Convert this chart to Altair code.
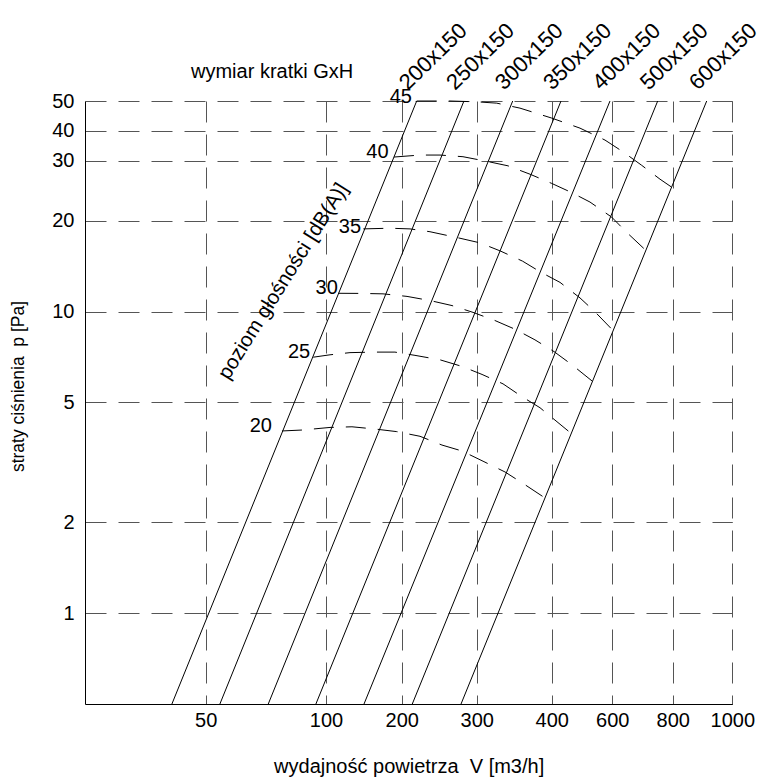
import altair as alt
import pandas as pd

# ---------------- data ----------------
x_ticks = [50, 100, 200, 300, 400, 600, 800, 1000]
y_ticks = [1, 2, 5, 10, 20, 30, 40, 50]

grille_sizes = ["200x150", "250x150", "300x150", "350x150", "400x150", "500x150", "600x150"]
grille_v_low = [43.0, 55.9, 76.0, 95.8, 150.2, 214.1, 279.1]      # V at p = 0.5 Pa
grille_v_high = [220.0, 283.0, 348.0, 430.7, 592.4, 750.3, 914.1]  # V at p = 50 Pa
grille_p_low = 0.5
grille_p_high = 50.0

noise_levels = [45, 40, 35, 30, 25, 20]
curve45_v = [220.0, 264.4, 300.0, 326.7, 357.7, 400.0, 493.4, 575.9, 635.4, 697.3, 757.9, 796.7]
curve45_p = [50.0, 50.0, 49.7, 49.2, 47.4, 44.0, 40.8, 36.6, 32.7, 29.1, 26.5, 25.1]
curve40_v = [189.8, 224.4, 251.1, 281.7, 313.3, 341.7, 371.1, 400.0, 466.0, 526.4, 598.0, 645.4, 709.9]
curve40_p = [31.1, 31.7, 31.7, 31.2, 29.9, 29.0, 27.4, 25.75, 24.2, 22.7, 20.5, 18.4, 16.0]
curve35_v = [149.3, 184.5, 211.1, 237.7, 273.7, 304.4, 331.1, 361.1, 385.7, 427.4, 493.4, 542.9, 602.3]
curve35_p = [18.8, 18.9, 18.8, 18.4, 17.6, 16.9, 15.9, 14.7, 13.5, 12.5, 11.1, 9.98, 8.66]
curve30_v = [116.2, 144.9, 175.3, 207.1, 237.7, 267.1, 295.1, 324.4, 351.1, 377.7, 407.6, 467.0, 533.0]
curve30_p = [11.5, 11.49, 11.45, 11.23, 10.88, 10.47, 9.94, 9.34, 8.74, 8.06, 7.37, 6.66, 5.89]
curve25_v = [94.7, 105.3, 131.7, 162.1, 191.1, 217.7, 251.1, 280.4, 307.1, 335.1, 360.0, 384.4, 414.2, 463.7]
curve25_p = [7.06, 7.19, 7.31, 7.34, 7.34, 7.16, 6.92, 6.58, 6.19, 5.76, 5.23, 4.80, 4.34, 3.95]
curve20_v = [81.7, 90.4, 105.3, 134.3, 164.7, 193.4, 224.4, 253.7, 280.4, 309.7, 337.7, 363.1, 391.1]
curve20_p = [4.02, 4.05, 4.13, 4.15, 4.08, 4.00, 3.86, 3.61, 3.45, 3.18, 2.94, 2.68, 2.41]

noise_label_v = [198.8, 168.0, 131.7, 100.9, 88.8, 72.9]
noise_label_p = [51.6, 32.5, 19.1, 12.0, 7.35, 4.18]

noise_title = "poziom głośności [dB(A)]"
noise_title_v = 82.3
noise_title_p = 12.6

grille_title = "wymiar kratki GxH"
grille_title_v = 77.6
grille_title_p = 62.2

x_title = "wydajność powietrza \u00a0V [m3/h]"
y_title = "straty ciśnienia \u00a0p [Pa]"

# ---------------- tables ----------------
grille_rows = []
for s, lo, hi in zip(grille_sizes, grille_v_low, grille_v_high):
    grille_rows.append({"size": s, "V": lo, "p": grille_p_low, "o": 0})
    grille_rows.append({"size": s, "V": hi, "p": grille_p_high, "o": 1})
grille_df = pd.DataFrame(grille_rows)

curves = {45: (curve45_v, curve45_p), 40: (curve40_v, curve40_p), 35: (curve35_v, curve35_p),
          30: (curve30_v, curve30_p), 25: (curve25_v, curve25_p), 20: (curve20_v, curve20_p)}
curve_rows = []
for lvl, (vs, ps) in curves.items():
    for i, (v, p) in enumerate(zip(vs, ps)):
        curve_rows.append({"level": lvl, "V": v, "p": p, "o": i})
curve_df = pd.DataFrame(curve_rows)

noise_lbl_df = pd.DataFrame({"txt": [str(n) for n in noise_levels], "V": noise_label_v, "p": noise_label_p})
grille_lbl_df = pd.DataFrame({"txt": grille_sizes, "V": grille_v_high, "p": [grille_p_high] * len(grille_sizes)})
misc_df = pd.DataFrame({"txt": [grille_title], "V": [grille_title_v], "p": [grille_title_p]})
noise_title_df = pd.DataFrame({"txt": [noise_title], "V": [noise_title_v], "p": [noise_title_p]})

# ---------------- scales / axes ----------------
FONT = "Liberation Sans"
xscale = alt.Scale(type="linear",
                   domain=[25, 50, 100, 200, 300, 400, 600, 800, 1000],
                   range=[0, 120.7, 241, 316.7, 391.7, 466.7, 527.3, 587.7, 647.3],
                   zero=False, nice=False)
# the original chart's upper gridlines are spaced slightly irregularly: piecewise log scale
yscale = alt.Scale(type="log",
                   domain=[0.5, 20, 30, 40, 50],
                   range=[603, 119.8, 59.8, 29.8, 0],
                   nice=False)

x_axis = alt.Axis(values=x_ticks, format="d", title=x_title, grid=True,
                  gridDash=[21, 12], gridColor="#555555", gridWidth=1, gridOpacity=1,
                  ticks=False, domainColor="black", domainWidth=1,
                  labelFont=FONT, labelFontSize=20, labelColor="black", labelPadding=6,
                  labelFlush=False, labelOverlap=False,
                  titleFont=FONT, titleFontSize=20, titleFontWeight="normal",
                  titleColor="black", titlePadding=26)
y_axis = alt.Axis(values=y_ticks, format="d", title=y_title, grid=True,
                  gridDash=[21, 12], gridColor="#555555", gridWidth=1, gridOpacity=1,
                  ticks=False, domainColor="black", domainWidth=1,
                  labelFont=FONT, labelFontSize=20, labelColor="black", labelPadding=11,
                  labelOverlap=False,
                  titleFont=FONT, titleFontSize=17.5, titleFontWeight="normal",
                  titleColor="black", titlePadding=24, titleY=285)

X = alt.X("V:Q", scale=xscale, axis=x_axis)
Y = alt.Y("p:Q", scale=yscale, axis=y_axis)

grille_lines = alt.Chart(grille_df).mark_line(color="black", strokeWidth=1).encode(
    x=X, y=Y, detail="size:N", order="o:O",
)

noise_lines = alt.Chart(curve_df).mark_line(color="black", strokeWidth=1, strokeDash=[20, 12]).encode(
    x=X, y=Y, detail="level:N", order="o:O",
)

noise_labels = alt.Chart(noise_lbl_df).mark_text(
    font=FONT, fontSize=20, color="black", align="center", baseline="middle").encode(
    x=X, y=Y, text="txt:N",
)

grille_labels = alt.Chart(grille_lbl_df).mark_text(
    font=FONT, fontSize=22, color="black", align="left", baseline="alphabetic",
    angle=316, xOffset=-9, yOffset=-10).encode(
    x=X, y=Y, text="txt:N",
)

grille_title_txt = alt.Chart(misc_df).mark_text(
    font=FONT, fontSize=20, color="black", align="center", baseline="middle").encode(
    x=X, y=Y, text="txt:N",
)

noise_title_txt = alt.Chart(noise_title_df).mark_text(
    font=FONT, fontSize=20.5, color="black", align="center", baseline="middle", angle=302).encode(
    x=X, y=Y, text="txt:N",
)

chart = alt.layer(
    grille_lines, noise_lines, noise_labels, grille_labels, grille_title_txt, noise_title_txt
).properties(
    width=647, height=603,
    autosize=alt.AutoSizeParams(type="none"),
    padding={"left": 77, "top": 93, "right": 29, "bottom": 80},
    background="white",
).configure_view(strokeWidth=0)

chart.save("out.html", embed_options={"renderer": "svg", "actions": False})
